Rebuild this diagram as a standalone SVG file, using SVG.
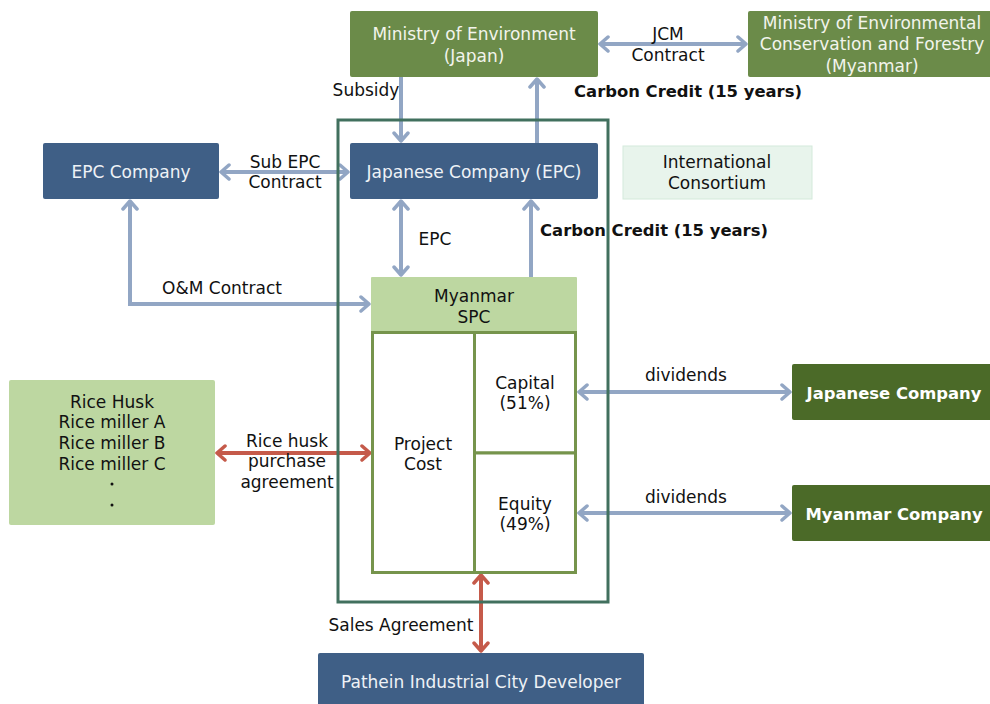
<svg xmlns="http://www.w3.org/2000/svg" width="990" height="704" viewBox="0 0 990 704">
  <style>
    text { font-family: "DejaVu Sans", Verdana, sans-serif; font-size: 17px; text-anchor: middle; }
    .lbl { fill: #111111; }
    .bold { font-weight: bold; fill: #111111; font-size: 16.4px; }
    .lt { fill: #eef2f6; }
    .lg { fill: #f2f4ec; }
    .wb { fill: #ffffff; font-weight: bold; font-size: 16.4px; }
    .blue { fill: #3f5f86; }
    .olive { fill: #6b8b49; }
    .dark { fill: #4b6a28; }
    .pale { fill: #bdd7a1; }
    .cell { fill: #ffffff; stroke: #76944c; stroke-width: 3; }
    .conn { fill: none; stroke: #92a6c4; stroke-width: 4; }
    .red { fill: none; stroke: #c55a4a; stroke-width: 4; }
  </style>
  <defs>
    <marker id="ah" markerUnits="userSpaceOnUse" viewBox="0 0 14 18" markerWidth="14" markerHeight="18" refX="11" refY="9" orient="auto-start-reverse">
      <path d="M3,2 L11,9 L3,16" fill="none" stroke="#92a6c4" stroke-width="3.5" stroke-linecap="round" stroke-linejoin="round"/>
    </marker>
    <marker id="ahr" markerUnits="userSpaceOnUse" viewBox="0 0 14 18" markerWidth="14" markerHeight="18" refX="11" refY="9" orient="auto-start-reverse">
      <path d="M3,2 L11,9 L3,16" fill="none" stroke="#c55a4a" stroke-width="3.5" stroke-linecap="round" stroke-linejoin="round"/>
    </marker>
  </defs>

  <rect width="990" height="704" fill="#ffffff"/>

  <!-- connectors -->
  <g id="connectors">
    <line class="conn" x1="600" y1="44" x2="746" y2="44" marker-start="url(#ah)" marker-end="url(#ah)"/>
    <line class="conn" x1="401" y1="77" x2="401" y2="141" marker-end="url(#ah)"/>
    <line class="conn" x1="537" y1="143" x2="537" y2="79" marker-end="url(#ah)"/>
    <line class="conn" x1="221" y1="172" x2="348" y2="172" marker-start="url(#ah)" marker-end="url(#ah)"/>
    <line class="conn" x1="401" y1="201" x2="401" y2="275" marker-start="url(#ah)" marker-end="url(#ah)"/>
    <line class="conn" x1="531" y1="277" x2="531" y2="201" marker-end="url(#ah)"/>
    <polyline class="conn" points="130,201 130,304 369,304" marker-start="url(#ah)" marker-end="url(#ah)"/>
    <line class="conn" x1="579" y1="392" x2="790" y2="392" marker-start="url(#ah)" marker-end="url(#ah)"/>
    <line class="conn" x1="579" y1="513" x2="790" y2="513" marker-start="url(#ah)" marker-end="url(#ah)"/>
    <line class="red" x1="217" y1="453" x2="370" y2="453" marker-start="url(#ahr)" marker-end="url(#ahr)"/>
    <line class="red" x1="481" y1="575" x2="481" y2="651" marker-start="url(#ahr)" marker-end="url(#ahr)"/>

    <text class="lbl" x="668" y="40">JCM</text>
    <text class="lbl" x="668" y="61">Contract</text>
    <text class="lbl" x="366" y="96">Subsidy</text>
    <text class="bold" x="688" y="97">Carbon Credit (15 years)</text>
    <text class="lbl" x="285" y="168">Sub EPC</text>
    <text class="lbl" x="285" y="188">Contract</text>
    <text class="lbl" x="435" y="245">EPC</text>
    <text class="bold" x="654" y="236">Carbon Credit (15 years)</text>
    <text class="lbl" x="222" y="294">O&amp;M Contract</text>
    <text class="lbl" x="287" y="447">Rice husk</text>
    <text class="lbl" x="287" y="467">purchase</text>
    <text class="lbl" x="287" y="488">agreement</text>
    <text class="lbl" x="686" y="381">dividends</text>
    <text class="lbl" x="686" y="503">dividends</text>
    <text class="lbl" x="401" y="631">Sales Agreement</text>
  </g>

  <!-- consortium frame -->
  <g id="consortium-frame">
    <rect x="338" y="120" width="270" height="482" fill="none" stroke="#41705e" stroke-width="3"/>
  </g>

  <g id="moe-japan">
    <rect class="olive" x="350" y="11" width="248" height="66" rx="2"/>
    <text class="lg" x="474" y="40">Ministry of Environment</text>
    <text class="lg" x="474" y="62">(Japan)</text>
  </g>

  <g id="moecf-myanmar">
    <rect class="olive" x="748" y="11" width="245" height="66" rx="2"/>
    <text class="lg" x="872" y="29">Ministry of Environmental</text>
    <text class="lg" x="872" y="50">Conservation and Forestry</text>
    <text class="lg" x="872" y="72">(Myanmar)</text>
  </g>

  <g id="epc-company">
    <rect class="blue" x="43" y="143" width="176" height="56" rx="2"/>
    <text class="lt" x="131" y="178">EPC Company</text>
  </g>

  <g id="japanese-company-epc">
    <rect class="blue" x="350" y="143" width="248" height="56" rx="2"/>
    <text class="lt" x="474" y="178">Japanese Company (EPC)</text>
  </g>

  <g id="international-consortium">
    <rect x="623" y="146" width="189" height="53" fill="#e8f4ec" stroke="#d4eadb" stroke-width="1"/>
    <text class="lbl" x="717" y="168">International</text>
    <text class="lbl" x="717" y="189">Consortium</text>
  </g>

  <g id="myanmar-spc">
    <rect class="pale" x="371" y="277" width="206" height="55" rx="1"/>
    <text class="lbl" x="474" y="302">Myanmar</text>
    <text class="lbl" x="474" y="323">SPC</text>
    <rect class="cell" x="372.5" y="332.5" width="102" height="240"/>
    <rect class="cell" x="474.5" y="332.5" width="101" height="120.5"/>
    <rect class="cell" x="474.5" y="453" width="101" height="119.5"/>
    <text class="lbl" x="423" y="450">Project</text>
    <text class="lbl" x="423" y="470">Cost</text>
    <text class="lbl" x="525" y="389">Capital</text>
    <text class="lbl" x="525" y="409">(51%)</text>
    <text class="lbl" x="525" y="510">Equity</text>
    <text class="lbl" x="525" y="530">(49%)</text>
  </g>

  <g id="rice-husk">
    <rect class="pale" x="9" y="380" width="206" height="145" rx="2"/>
    <text class="lbl" x="112" y="408">Rice Husk</text>
    <text class="lbl" x="112" y="428">Rice miller A</text>
    <text class="lbl" x="112" y="449">Rice miller B</text>
    <text class="lbl" x="112" y="470">Rice miller C</text>
    <circle cx="112" cy="484" r="1.5" fill="#111111"/>
    <circle cx="112" cy="505" r="1.5" fill="#111111"/>
  </g>

  <g id="japanese-company">
    <rect class="dark" x="792" y="364" width="201" height="56" rx="2"/>
    <text class="wb" x="894" y="399">Japanese Company</text>
  </g>

  <g id="myanmar-company">
    <rect class="dark" x="792" y="485" width="201" height="56" rx="2"/>
    <text class="wb" x="894" y="520">Myanmar Company</text>
  </g>

  <g id="pathein-developer">
    <rect class="blue" x="318" y="653" width="326" height="55" rx="2"/>
    <text class="lt" x="481" y="688">Pathein Industrial City Developer</text>
  </g>
</svg>
